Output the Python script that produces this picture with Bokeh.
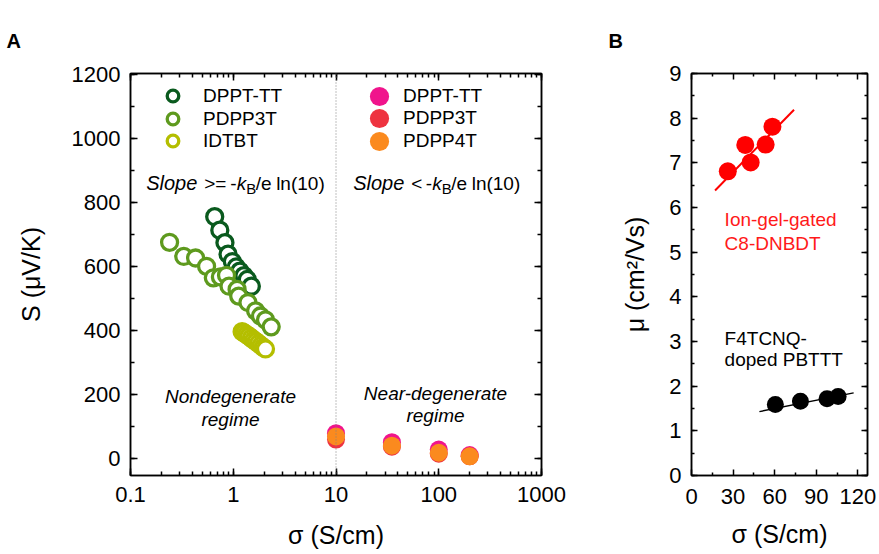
from bokeh.plotting import figure
from bokeh.layouts import row
from bokeh.models import (Range1d, LinearAxis, LogAxis, SingleIntervalTicker, FixedTicker,
                          LogTicker, CustomJSTickFormatter, Span, Label, Legend, LegendItem,
                          Title)
from bokeh.embed import file_html
from bokeh.resources import INLINE

FONT = "Liberation Sans"

# ---------------- Panel A data ----------------
dppt_open_sigma = [0.66, 0.74, 0.83, 0.89, 0.98, 1.07, 1.16, 1.27, 1.37, 1.50]
dppt_open_S = [756, 714, 675, 639, 616, 599, 586, 572, 560, 539]

pdpp3t_open_sigma = [0.24, 0.33, 0.43, 0.55, 0.64, 0.75, 0.86, 0.91, 1.09, 1.13,
                     1.39, 1.65, 1.84, 2.06, 2.34]
pdpp3t_open_S = [676, 632, 627, 601, 565, 568, 573, 539, 529, 508,
                 488, 462, 446, 434, 412]

idtbt_sigma = [1.22, 1.28, 1.35, 1.42, 1.50, 1.58, 1.67, 1.76, 1.86, 1.96, 2.06]
idtbt_S = [397, 393, 388, 383, 377, 371, 366, 360, 354, 348, 343]

dppt_fill_sigma = [10, 35, 100, 200]
dppt_fill_S = [80, 52, 29, 12]
pdpp3t_fill_sigma = [10, 35, 100, 200]
pdpp3t_fill_S = [60, 38, 16, 8]
pdpp4t_fill_sigma = [10, 35, 100, 200]
pdpp4t_fill_S = [70, 41, 19, 8]

# ---------------- Panel B data ----------------
dnbdt_sigma = [26.2, 38.8, 42.7, 53.5, 58.4]
dnbdt_mu = [6.81, 7.40, 7.01, 7.41, 7.81]
dnbdt_fit_sigma = [17, 74]
dnbdt_fit_mu = [6.38, 8.19]

pbttt_sigma = [60.5, 78.6, 97.8, 105.8]
pbttt_mu = [1.59, 1.66, 1.72, 1.77]
pbttt_fit_sigma = [49, 117]
pbttt_fit_mu = [1.43, 1.85]

# colours
C_DARK = "#0A5A1E"
C_MID = "#5E9A1E"
C_YEL = "#B4BE00"
C_PINK = "#F0148C"
C_RED = "#EE3340"
C_ORNG = "#FB8A1E"


def style_axis(ax, major_in=7, minor_in=4, hide_labels=False):
    ax.axis_line_width = 1.5
    ax.axis_line_color = "black"
    ax.major_tick_in = major_in
    ax.major_tick_out = 0
    ax.minor_tick_in = minor_in
    ax.minor_tick_out = 0
    ax.major_tick_line_width = 1.5
    ax.minor_tick_line_width = 1.5
    ax.major_label_text_font = FONT
    ax.major_label_text_font_size = "22px"
    ax.major_label_text_color = "black"
    ax.axis_label_text_font = FONT
    ax.axis_label_text_font_size = "25px"
    ax.axis_label_text_font_style = "normal"
    ax.axis_label_text_color = "black"
    if hide_labels:
        ax.major_label_text_font_size = "1px"
        ax.major_label_text_color = None
        ax.major_label_standoff = 0


def legend_entry(fig, label, renderer, loc, box, standoff):
    fig.add_layout(Legend(items=[LegendItem(label=label, renderers=[renderer])],
                          location=loc, glyph_width=box, glyph_height=box,
                          label_standoff=standoff, padding=0, margin=0, spacing=0,
                          border_line_color=None, background_fill_alpha=0,
                          label_text_font=FONT, label_text_font_size="19px",
                          label_text_color="black"))


def panel_letter(fig, letter, offset):
    fig.title = Title(text=letter, align="left", offset=offset, standoff=40,
                      vertical_align="top", text_font=FONT, text_font_size="20px",
                      text_font_style="bold", text_color="black")


# ================= Panel A =================
pa = figure(width=608, height=554, x_axis_type="log",
            x_range=Range1d(0.1, 1000), y_range=Range1d(-52, 1203),
            output_backend="svg", toolbar_location=None,
            min_border_left=130, min_border_right=67,
            min_border_top=72, min_border_bottom=76)
pa.grid.visible = False
pa.outline_line_color = "black"
pa.outline_line_width = 1.5
pa.background_fill_color = "white"
pa.border_fill_color = "white"
panel_letter(pa, "A", -124)

log_ticker = LogTicker(num_minor_ticks=10)
log_fmt = CustomJSTickFormatter(code="return tick < 1 ? tick.toFixed(1) : tick.toFixed(0);")
pa.xaxis.ticker = log_ticker
pa.xaxis.formatter = log_fmt
y_ticker_a = SingleIntervalTicker(interval=200, num_minor_ticks=2)
pa.yaxis.ticker = y_ticker_a
pa.xaxis.axis_label = "σ (S/cm)"
pa.yaxis.axis_label = "S (μV/K)"
style_axis(pa.xaxis[0])
style_axis(pa.yaxis[0])
pa.xaxis.major_label_standoff = 11
pa.xaxis.axis_label_standoff = 16
pa.yaxis.major_label_standoff = 10
pa.yaxis.axis_label_standoff = 24

top_a = LogAxis(ticker=log_ticker, formatter=log_fmt)
style_axis(top_a, hide_labels=True)
pa.add_layout(top_a, "above")
right_a = LinearAxis(ticker=y_ticker_a)
style_axis(right_a, hide_labels=True)
pa.add_layout(right_a, "right")

pa.add_layout(Span(location=10, dimension="height", line_color="#808080",
                   line_width=1, line_dash="1 2"))

r_dppt_o = pa.scatter(dppt_open_sigma, dppt_open_S, size=16, marker="circle",
                      fill_color="white", line_color=C_DARK, line_width=3.3)
r_pdpp3t_o = pa.scatter(pdpp3t_open_sigma, pdpp3t_open_S, size=16, marker="circle",
                        fill_color="white", line_color=C_MID, line_width=3.3)
r_idtbt_o = pa.scatter(idtbt_sigma, idtbt_S, size=16, marker="circle",
                       fill_color="white", line_color=C_YEL, line_width=3.3)

r_dppt_f = pa.scatter(dppt_fill_sigma, dppt_fill_S, size=18, marker="circle",
                      fill_color=C_PINK, line_color=None)
r_pdpp3t_f = pa.scatter(pdpp3t_fill_sigma, pdpp3t_fill_S, size=18, marker="circle",
                        fill_color=C_RED, line_color=None)
r_pdpp4t_f = pa.scatter(pdpp4t_fill_sigma, pdpp4t_fill_S, size=18, marker="circle",
                        fill_color=C_ORNG, line_color=None)

# legends (one entry each so that rows can sit closer than the glyph box)
legend_entry(pa, "DPPT-TT", r_dppt_o, (28, 365), 29, 16)
legend_entry(pa, "PDPP3T", r_pdpp3t_o, (28, 342), 29, 16)
legend_entry(pa, "IDTBT", r_idtbt_o, (28, 320), 29, 16)
legend_entry(pa, "DPPT-TT", r_dppt_f, (225, 355), 48, 0)
legend_entry(pa, "PDPP3T", r_pdpp3t_f, (225, 333), 48, 0)
legend_entry(pa, "PDPP4T", r_pdpp4t_f, (225, 310), 48, 0)

FS_IT = "20px"
FS = "19px"
SUB = "15px"


def slope_text(fig, x, y, rel):
    """Slope <rel> -k_B/e ln(10), built from pieces."""
    if rel == ">=":
        offs = [0, 58, 84, 90.5, 100, 109.5, 130]
    else:
        offs = [0, 58, 72.5, 79, 88.5, 98, 118.5]
    pieces = [("Slope", "italic", FS_IT, 0), (rel, "normal", FS, 0), ("-", "normal", FS, 0),
              ("k", "italic", FS, 0), ("B", "normal", SUB, -5), ("/e", "normal", FS, 0),
              ("ln(10)", "normal", FS, 0)]
    for (txt, style, size, yoff), off in zip(pieces, offs):
        fig.add_layout(Label(x=x, y=y, x_offset=off, y_offset=yoff, text=txt,
                             text_font=FONT, text_font_size=size,
                             text_font_style=style, text_align="left",
                             text_baseline="middle", text_color="black"))


slope_text(pa, 0.142, 860, ">=")
slope_text(pa, 14.7, 860, "<")

for txt, x, y in [("Nondegenerate", 0.94, 194), ("regime", 0.94, 123),
                  ("Near-degenerate", 93.0, 203), ("regime", 93.0, 135)]:
    pa.add_layout(Label(x=x, y=y, text=txt, text_font=FONT, text_font_size="19px",
                        text_font_style="italic", text_align="center",
                        text_baseline="middle", text_color="black"))

# ================= Panel B =================
pb = figure(width=271, height=554, x_range=Range1d(0, 127), y_range=Range1d(0, 9),
            output_backend="svg", toolbar_location=None,
            min_border_left=83, min_border_right=12,
            min_border_top=73, min_border_bottom=79)
pb.grid.visible = False
pb.outline_line_color = "black"
pb.outline_line_width = 1.5
pb.background_fill_color = "white"
pb.border_fill_color = "white"
panel_letter(pb, "B", -83)

x_ticker_b = FixedTicker(ticks=[0, 30, 60, 90, 120], minor_ticks=[15, 45, 75, 105])
y_ticker_b = SingleIntervalTicker(interval=1, num_minor_ticks=2)
pb.xaxis.ticker = x_ticker_b
pb.yaxis.ticker = y_ticker_b
pb.xaxis.axis_label = "σ (S/cm)"
pb.yaxis.axis_label = "μ (cm²/Vs)"
style_axis(pb.xaxis[0], major_in=6, minor_in=3)
style_axis(pb.yaxis[0], major_in=6, minor_in=3)
pb.xaxis.major_label_standoff = 13
pb.xaxis.axis_label_standoff = 13
pb.yaxis.major_label_standoff = 10
pb.yaxis.axis_label_standoff = 17

top_b = LinearAxis(ticker=x_ticker_b)
style_axis(top_b, major_in=6, minor_in=3, hide_labels=True)
pb.add_layout(top_b, "above")
right_b = LinearAxis(ticker=y_ticker_b)
style_axis(right_b, major_in=6, minor_in=3, hide_labels=True)
pb.add_layout(right_b, "right")

pb.line(dnbdt_fit_sigma, dnbdt_fit_mu, line_color="#FF0000", line_width=2)
pb.line(pbttt_fit_sigma, pbttt_fit_mu, line_color="black", line_width=1.5)
pb.scatter(dnbdt_sigma, dnbdt_mu, size=18, marker="circle", fill_color="#FF0000",
           line_color=None)
pb.scatter(pbttt_sigma, pbttt_mu, size=17, marker="circle", fill_color="black",
           line_color=None)

for txt, y, col in [("Ion-gel-gated", 5.73, "#FF1A1A"), ("C8-DNBDT", 5.19, "#FF1A1A"),
                    ("F4TCNQ-", 3.07, "black"), ("doped PBTTT", 2.60, "black")]:
    pb.add_layout(Label(x=23.9, y=y, text=txt, text_font=FONT, text_font_size="19px",
                        text_align="left", text_baseline="middle", text_color=col))

layout = row(pa, pb)
open("out.html", "w").write(file_html(layout, INLINE))
